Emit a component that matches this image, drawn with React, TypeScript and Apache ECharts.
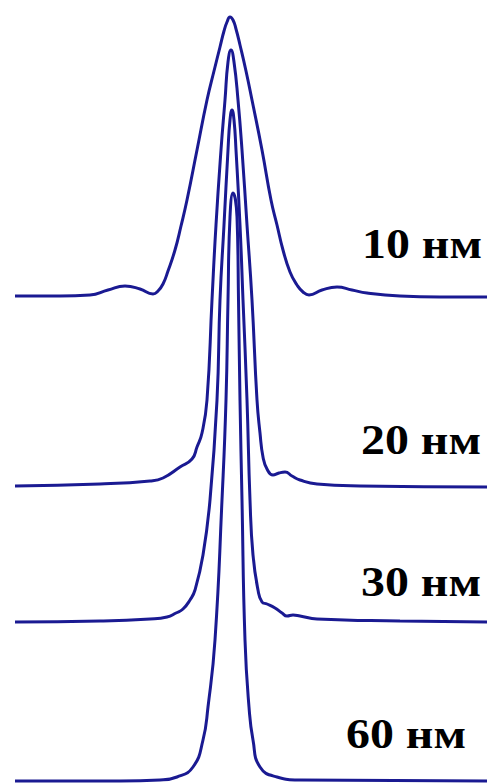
import React, { useEffect, useRef } from "react";
import * as echarts from "echarts";

// Peak profiles for four particle sizes, drawn as an offset (waterfall) stack.
// Positions along the scan and intensities are in arbitrary units.
const sizeLabels = ["10 нм", "20 нм", "30 нм", "60 нм"];

// Vertical offset of each profile's baseline in the stack.
const baselineOffsets = [487, 297, 162, 3];

const positions10 = [15, 60, 90, 108, 125, 140, 153, 158, 163, 168, 175, 181, 187, 197, 207, 214, 220, 224, 227, 230, 233, 236, 240, 246, 252, 262, 271, 277, 283, 290, 297, 303, 309, 322, 337, 352, 367, 400, 440, 487];
const intensity10 = [1, 1, 2, 7, 11, 8, 3, 6, 13, 26, 47, 71, 97, 147, 197, 226, 250, 266, 275, 280, 277, 268, 252, 226, 197, 147, 97, 72, 47, 25, 12, 5, 2, 7, 10, 7, 4, 1, 0, 0];

const positions20 = [15, 100, 150, 163, 180, 192, 197, 202, 207, 212, 216, 221, 225, 228, 231, 234, 238, 242, 247, 252, 257, 260, 263, 267, 273, 279, 285, 292, 300, 317, 360, 487];
const intensity20 = [1, 3, 6, 9, 20, 28, 40, 54, 87, 187, 262, 337, 387, 425, 437, 425, 387, 337, 262, 187, 87, 54, 30, 18, 12, 14, 15, 11, 7, 3, 1, 0];

const positions30 = [15, 100, 150, 167, 176, 183, 190, 195, 203, 210, 217, 220, 224, 228, 230, 232, 234, 236, 240, 243, 247, 250, 253, 258, 262, 267, 275, 282, 287, 293, 300, 317, 400, 487];
const intensity30 = [0, 1, 3, 5, 9, 13, 22, 32, 67, 122, 222, 322, 397, 472, 502, 512, 502, 472, 397, 322, 222, 122, 67, 32, 20, 18, 14, 9, 6, 7, 6, 3, 1, 0];

const positions60 = [15, 120, 160, 177, 193, 203, 208, 215, 222, 226, 228, 230, 233, 237, 238.5, 240, 242, 245, 249, 253, 260, 277, 300, 487];
const intensity60 = [0, 0, 1, 4, 14, 41, 74, 141, 281, 381, 481, 564, 588, 564, 481, 381, 281, 141, 74, 41, 14, 4, 1, 0];

// Label anchors (right edge, vertical centre) in pixels.
const labelRight = [482, 481, 481, 466];
const labelCenterY = [244, 440, 582, 734];

const profiles = [
  { x: positions10, y: intensity10 },
  { x: positions20, y: intensity20 },
  { x: positions30, y: intensity30 },
  { x: positions60, y: intensity60 },
];

const LINE_COLOR = "#1a1a92";

export default function App() {
  const ref = useRef<HTMLDivElement>(null);

  useEffect(() => {
    if (!ref.current) return;
    const chart = echarts.init(ref.current, null, { renderer: "svg" });

    const series = profiles.map((p, k) => ({
      name: sizeLabels[k],
      type: "line",
      showSymbol: false,
      smooth: 0.5,
      lineStyle: { color: LINE_COLOR, width: 3 },
      data: p.x.map((x, i) => [x, p.y[i] + baselineOffsets[k]]),
      z: 2,
    }));

    const graphic = sizeLabels.map((label, k) => ({
      type: "text",
      x: labelRight[k],
      y: labelCenterY[k],
      scaleX: 1.14,
      style: {
        text: label,
        font: 'bold 42px "Liberation Serif", "Times New Roman", serif',
        fill: "#000",
        align: "right",
        verticalAlign: "middle",
      },
    }));

    chart.setOption({
      animation: false,
      backgroundColor: "#ffffff",
      grid: { left: 0, right: 0, top: 0, bottom: 0 },
      xAxis: { type: "value", min: 0, max: 487, show: false },
      yAxis: { type: "value", min: 0, max: 784, show: false },
      series,
      graphic,
    });

    return () => chart.dispose();
  }, []);

  return (
    <div
      ref={ref}
      style={{ position: "absolute", left: 0, top: 0, width: 487, height: 784 }}
    />
  );
}
